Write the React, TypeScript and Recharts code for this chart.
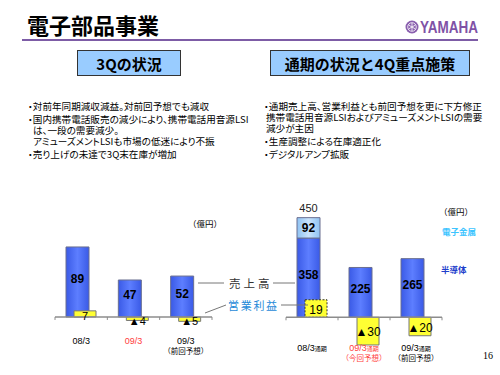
import { Bar, BarChart, Cell, LabelList, ReferenceLine, XAxis, YAxis } from "recharts";

// 3Q (quarterly) chart
const quarterCats = ["08/3", "09/3", "09/3"];
const quarterNotes = ["", "", "（前回予想）"];
const quarterSales = [89, 47, 52];
const quarterProfit = [7, -4, -5];

// full-year chart
const yearCats = ["08/3", "09/3", "09/3"];
const yearSuffix = "通期";
const yearNotes = ["", "（今回予想）", "（前回予想）"];
const yearSemi = [358, 225, 265];
const yearMetal = [92, 0, 0];
const yearTotal = [450, null, null];
const yearProfit = [19, -30, -20];

const catColors = ["#000000", "#ff3c3c", "#000000"];

const leftBullets = [
  ["・対前年同期減収減益。対前回予想でも減収"],
  ["・国内携帯電話販売の減少により、携帯電話用音源LSI", "は、一段の需要減少。", "アミューズメントLSIも市場の低迷により不振"],
  ["・売り上げの未達で3Q末在庫が増加"],
];
const rightBullets = [
  ["・通期売上高、営業利益とも前回予想を更に下方修正", "携帯電話用音源LSIおよびアミューズメントLSIの需要", "減少が主因"],
  ["・生産調整による在庫適正化"],
  ["・デジタルアンプ拡販"],
];

const CJK = "'Noto Sans CJK JP', sans-serif";
const NUM = "'Liberation Sans', Arial, sans-serif";

const quarterData = quarterCats.map((name, i) => ({
  name,
  sales: quarterSales[i],
  profit: quarterProfit[i],
}));
const yearData = yearCats.map((name, i) => ({
  name,
  semi: yearSemi[i],
  metal: yearMetal[i],
  total: yearTotal[i],
  profit: yearProfit[i],
}));

const fmtProfit = (v: number) => (v < 0 ? `▲${-v}` : `${v}`);

const makeTick = (notes: string[], suffix: string, dy: number) => (props: any) => {
  const { x, y, index, payload } = props;
  return (
    <g>
      <text x={x} y={y + dy} textAnchor="middle" fontSize={9} fill={catColors[index]} fontFamily={NUM}>
        {payload.value}
        {suffix ? (
          <tspan fontSize={6} fontFamily={CJK}>
            {suffix}
          </tspan>
        ) : null}
      </text>
      {notes[index] ? (
        <text x={x} y={y + dy + 10} textAnchor="middle" fontSize={7.5} fill={catColors[index]} fontFamily={CJK}>
          {notes[index]}
        </text>
      ) : null}
    </g>
  );
};

const makeBaseline = (n: number) => (p: any) => {
  const x1 = Math.min(p.x1, p.x2);
  const x2 = Math.max(p.x1, p.x2);
  const y = p.y1;
  const step = (x2 - x1) / n;
  return (
    <g>
      <line x1={x1} x2={x2} y1={y} y2={y} stroke="#8c8c8c" strokeWidth={1.5} />
      {Array.from({ length: n + 1 }, (_, i) => (
        <line key={i} x1={x1 + i * step} x2={x1 + i * step} y1={y} y2={y + 3} stroke="#8c8c8c" />
      ))}
    </g>
  );
};

const valueLabel =
  (size: number, bold: boolean, dy: number, fmt: (v: number) => string = (v) => `${v}`) =>
  (p: any) => {
    const v = p.value;
    if (v == null || v === 0) return null;
    const vb = p.viewBox || p;
    const cx = vb.x + vb.width / 2;
    const cy = vb.y + vb.height / 2;
    return (
      <text
        x={cx}
        y={cy + dy}
        textAnchor="middle"
        dominantBaseline="central"
        fontSize={size}
        fontWeight={bold ? "bold" : "normal"}
        fontFamily={NUM}
        fill="#000"
      >
        {fmt(v)}
      </text>
    );
  };

const totalLabel = (p: any) => {
  const v = p.value;
  if (v == null) return null;
  const vb = p.viewBox || p;
  const top = Math.min(vb.y, vb.y + vb.height);
  return (
    <text x={vb.x + vb.width / 2} y={top - 6} textAnchor="middle" fontSize={11} fontFamily={NUM} fill="#222">
      {v}
    </text>
  );
};

const Gradients = ({ id }: { id: string }) => (
  <defs>
    <linearGradient id={`${id}Blue`} x1="0" y1="0" x2="1" y2="0">
      <stop offset="0%" stopColor="#3a5ae6" />
      <stop offset="50%" stopColor="#5d7eff" />
      <stop offset="100%" stopColor="#3a5ae6" />
    </linearGradient>
    <linearGradient id={`${id}Light`} x1="0" y1="0" x2="1" y2="0">
      <stop offset="0%" stopColor="#8fc3f3" />
      <stop offset="50%" stopColor="#c9e3fb" />
      <stop offset="100%" stopColor="#8fc3f3" />
    </linearGradient>
  </defs>
);

function QuarterChart() {
  return (
    <BarChart
      width={250}
      height={180}
      data={quarterData}
      margin={{ top: 43.3, right: 38, bottom: 22.3, left: 55 }}
      barGap={-15}
    >
      <Gradients id="q" />
      <XAxis dataKey="name" axisLine={false} tickLine={false} height={20} interval={0} tick={makeTick(quarterNotes, "", 3)} />
      <YAxis yAxisId="s" hide type="number" domain={[-20, 100]} />
      <YAxis yAxisId="p" hide type="number" domain={[-18, 90]} />
      <Bar yAxisId="s" dataKey="sales" barSize={23} fill="url(#qBlue)" stroke="#6a6f90" isAnimationActive={false}>
        <LabelList dataKey="sales" content={valueLabel(12, true, -3)} />
      </Bar>
      <Bar yAxisId="p" dataKey="profit" barSize={22} fill="#ffff33" stroke="#777" isAnimationActive={false}>
        <LabelList dataKey="profit" content={valueLabel(11, false, 2, fmtProfit)} />
      </Bar>
      <ReferenceLine yAxisId="s" y={0} shape={makeBaseline(quarterCats.length)} />
    </BarChart>
  );
}

function YearChart() {
  return (
    <BarChart
      width={250}
      height={180}
      data={yearData}
      margin={{ top: 11.6, right: 58, bottom: 4.5, left: 36 }}
      barGap={-15}
    >
      <Gradients id="y" />
      <XAxis dataKey="name" axisLine={false} tickLine={false} height={20} interval={0} tick={makeTick(yearNotes, yearSuffix, -8)} />
      <YAxis yAxisId="s" hide type="number" domain={[-150, 500]} />
      <YAxis yAxisId="p" hide type="number" domain={[-36, 120]} />
      <Bar yAxisId="s" stackId="a" dataKey="semi" barSize={23} fill="url(#yBlue)" stroke="#6a6f90" isAnimationActive={false}>
        <LabelList dataKey="semi" content={valueLabel(12, true, -3)} />
      </Bar>
      <Bar yAxisId="s" stackId="a" dataKey="metal" barSize={23} fill="url(#yLight)" stroke="#6a6f90" isAnimationActive={false}>
        <LabelList dataKey="metal" content={valueLabel(12, true, 0)} />
        <LabelList dataKey="total" content={totalLabel} />
      </Bar>
      <Bar yAxisId="p" dataKey="profit" barSize={22} fill="#ffff33" stroke="#777" isAnimationActive={false}>
        {yearProfit.map((_, i) => (
          <Cell key={i} strokeDasharray={i === 0 ? "2 1.5" : undefined} stroke={i === 0 ? "#333" : "#777"} />
        ))}
        <LabelList dataKey="profit" content={valueLabel(12, false, 1, fmtProfit)} />
      </Bar>
      <ReferenceLine yAxisId="s" y={0} shape={makeBaseline(yearCats.length)} />
    </BarChart>
  );
}

function Bullets({ items, left, indent }: { items: string[][]; left: number; indent: number }) {
  return (
    <div
      style={{
        position: "absolute",
        left,
        top: 101,
        fontFamily: CJK,
        fontSize: 9.6,
        lineHeight: "11px",
        color: "#000",
        whiteSpace: "nowrap",
        fontFeatureSettings: '"palt"',
      }}
    >
      {items.map((lines, i) => (
        <div key={i} style={{ marginTop: i === 0 ? 0 : 2 }}>
          {lines.map((l, j) => (
            <div key={j} style={{ paddingLeft: j === 0 ? 0 : indent }}>
              {l}
            </div>
          ))}
        </div>
      ))}
    </div>
  );
}

const boxStyle = (left: number, width: number): any => ({
  position: "absolute",
  left,
  top: 50,
  width,
  height: 26,
  boxSizing: "border-box",
  border: "1.5px solid #333",
  background: "#99ccff",
  display: "flex",
  alignItems: "center",
  justifyContent: "center",
  fontFamily: CJK,
  fontWeight: "bold",
  fontSize: 15,
  color: "#000",
});

export default function App() {
  return (
    <div
      style={{
        position: "absolute",
        left: 0,
        top: 0,
        width: 500,
        height: 375,
        background: "#fff",
        overflow: "hidden",
      }}
    >
      <div
        style={{
          position: "absolute",
          left: 27,
          top: 9,
          fontFamily: CJK,
          fontWeight: "bold",
          fontSize: 22,
          lineHeight: "30px",
          color: "#000",
        }}
      >
        電子部品事業
      </div>
      <div style={{ position: "absolute", left: 22, top: 39, width: 456, height: 2, background: "#7d5ca6" }} />
      <div style={boxStyle(77, 104)}>3Qの状況</div>
      <div style={boxStyle(270, 200)}>通期の状況と4Q重点施策</div>
      <Bullets items={leftBullets} left={28} indent={5} />
      <Bullets items={rightBullets} left={264} indent={2} />

      <div style={{ position: "absolute", left: 0, top: 195 }}>
        <QuarterChart />
      </div>
      <div style={{ position: "absolute", left: 250, top: 195 }}>
        <YearChart />
      </div>

      <svg width={500} height={375} style={{ position: "absolute", left: 0, top: 0, pointerEvents: "none" }}>
        {/* logo */}
        <circle cx={412} cy={27} r={6.5} fill="#8a5fae" />
        <circle cx={412} cy={27} r={4.3} fill="none" stroke="#fff" strokeWidth={0.8} />
        <line x1={412} y1={23} x2={412} y2={31} stroke="#fff" strokeWidth={0.8} />
        <line x1={408.5} y1={29} x2={415.5} y2={25} stroke="#fff" strokeWidth={0.8} />
        <line x1={408.5} y1={25} x2={415.5} y2={29} stroke="#fff" strokeWidth={0.8} />
        <text
          x={420}
          y={33}
          fontSize={16}
          fontWeight="bold"
          fontFamily="'Liberation Sans Narrow', 'Liberation Sans', Arial, sans-serif"
          fill="#7f52a6"
          textLength={58}
          lengthAdjust="spacingAndGlyphs"
        >
          YAMAHA
        </text>

        {/* series callouts */}
        <line x1={198} y1={283} x2={224} y2={283} stroke="#777" />
        <line x1={273} y1={283} x2={295} y2={283} stroke="#777" />
        <text x={229} y={283} dominantBaseline="central" fontSize={11.5} letterSpacing={3} fill="#333" fontFamily={CJK}>
          売上高
        </text>
        <line x1={205} y1={313} x2={226} y2={305} stroke="#777" />
        <line x1={281} y1={305} x2={308} y2={305} stroke="#777" />
        <text x={228} y={305} dominantBaseline="central" fontSize={11} letterSpacing={1.7} fill="#1f8ad8" fontFamily={CJK}>
          営業利益
        </text>

        <text x={188} y={223} dominantBaseline="central" fontSize={8.5} fill="#000" fontFamily={CJK}>
          （億円）
        </text>
        <text x={439} y={211} dominantBaseline="central" fontSize={8.5} fill="#000" fontFamily={CJK}>
          （億円）
        </text>
        <text x={442} y={231} dominantBaseline="central" fontSize={8.5} fontWeight="bold" fill="#3cc4ff" fontFamily={CJK}>
          電子金属
        </text>
        <text x={441} y={269} dominantBaseline="central" fontSize={8.5} fontWeight="bold" fill="#1f3fcc" fontFamily={CJK}>
          半導体
        </text>
        <text x={488} y={355} dominantBaseline="central" textAnchor="middle" fontSize={10} fill="#000" fontFamily="'Liberation Serif', serif">
          16
        </text>
      </svg>
    </div>
  );
}
